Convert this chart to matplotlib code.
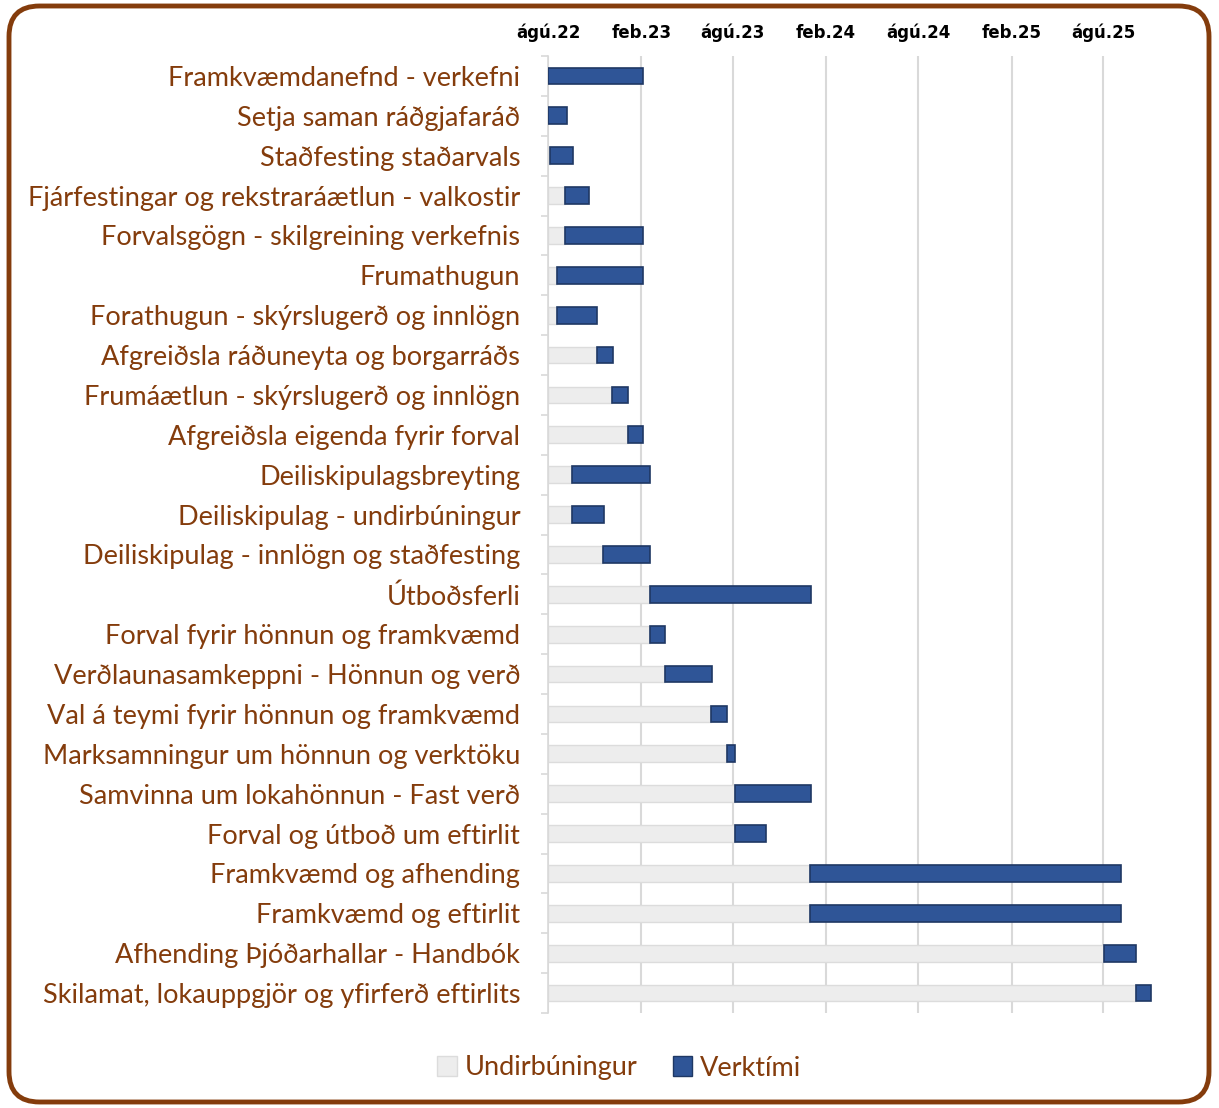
import pandas as pd
import matplotlib
matplotlib.use('Agg')
import matplotlib.pyplot as plt
import matplotlib.dates as mdates
from matplotlib.patches import FancyBboxPatch, Patch

# tasks of the project plan (top to bottom)
tasks = [
    'Framkvæmdanefnd - verkefni',
    'Setja saman ráðgjafaráð',
    'Staðfesting staðarvals',
    'Fjárfestingar og rekstraráætlun - valkostir',
    'Forvalsgögn - skilgreining verkefnis',
    'Frumathugun',
    'Forathugun - skýrslugerð og innlögn',
    'Afgreiðsla ráðuneyta og borgarráðs',
    'Frumáætlun - skýrslugerð og innlögn',
    'Afgreiðsla eigenda fyrir forval',
    'Deiliskipulagsbreyting',
    'Deiliskipulag - undirbúningur',
    'Deiliskipulag - innlögn og staðfesting',
    'Útboðsferli',
    'Forval fyrir hönnun og framkvæmd',
    'Verðlaunasamkeppni - Hönnun og verð',
    'Val á teymi fyrir hönnun og framkvæmd',
    'Marksamningur um hönnun og verktöku',
    'Samvinna um lokahönnun - Fast verð',
    'Forval og útboð um eftirlit',
    'Framkvæmd og afhending',
    'Framkvæmd og eftirlit',
    'Afhending Þjóðarhallar - Handbók',
    'Skilamat, lokauppgjör og yfirferð eftirlits',
]

start = ['2022-08-01', '2022-08-01', '2022-08-05', '2022-09-04', '2022-09-04',
         '2022-08-19', '2022-08-19', '2022-11-06', '2022-12-05', '2023-01-06',
         '2022-09-17', '2022-09-17', '2022-11-18', '2023-02-18', '2023-02-18',
         '2023-03-20', '2023-06-19', '2023-07-21', '2023-08-05', '2023-08-05',
         '2024-01-01', '2024-01-01', '2025-08-03', '2025-10-04']
end = ['2023-02-05', '2022-09-08', '2022-09-19', '2022-10-21', '2023-02-05',
       '2023-02-05', '2022-11-06', '2022-12-07', '2023-01-06', '2023-02-05',
       '2023-02-18', '2022-11-20', '2023-02-18', '2024-01-03', '2023-03-20',
       '2023-06-21', '2023-07-21', '2023-08-05', '2024-01-03', '2023-10-06',
       '2025-09-06', '2025-09-06', '2025-10-04', '2025-11-03']

tick_dates = ['2022-08-01', '2023-02-01', '2023-08-01', '2024-02-01',
              '2024-08-01', '2025-02-01', '2025-08-01']
tick_labels = ['ágú.22', 'feb.23', 'ágú.23', 'feb.24', 'ágú.24', 'feb.25', 'ágú.25']

brown = '#843C0C'
blue = '#2F5597'
gray = '#EDEDED'

s = mdates.date2num(pd.to_datetime(start))
e = mdates.date2num(pd.to_datetime(end))
xmin = mdates.date2num(pd.Timestamp('2022-08-01'))
xmax = mdates.date2num(pd.Timestamp('2025-12-01'))
y = list(range(len(tasks)))

fig = plt.figure(figsize=(12.19, 11.08), dpi=100)
ax = fig.add_axes([548 / 1219, 1 - 1013 / 1108, (1165 - 548) / 1219, (1013 - 56) / 1108])

ax.barh(y, s - xmin, left=xmin, height=0.42, color=gray, edgecolor='#DCDCDC', linewidth=1, zorder=2)
ax.barh(y, e - s, left=s, height=0.42, color=blue, edgecolor='#1F3864', linewidth=1.2, zorder=3)

ax.set_xlim(xmin, xmax)
ax.set_ylim(len(tasks) - 0.5, -0.5)

ax.xaxis.tick_top()
ax.set_xticks(mdates.date2num(pd.to_datetime(tick_dates)))
ax.set_xticklabels(tick_labels, fontsize=12, fontweight='bold', family='DejaVu Sans')
ax.tick_params(axis='x', length=0, pad=10)
ax.grid(axis='x', color='#D9D9D9', linewidth=1.5, zorder=0)

ax.set_yticks(y)
ax.set_yticklabels(tasks, fontsize=19.5, color=brown, family='Lato')
ax.tick_params(axis='y', which='major', length=0, pad=20)
ax.set_yticks([i + 0.5 for i in range(-1, len(tasks))], minor=True)
ax.tick_params(axis='y', which='minor', length=5, color='#D9D9D9', width=1.2)

for side in ['top', 'right', 'bottom']:
    ax.spines[side].set_visible(False)
ax.spines['left'].set_color('#D9D9D9')
ax.spines['left'].set_linewidth(1.2)

handles = [Patch(facecolor=gray, edgecolor='#DCDCDC', label='Undirbúningur'),
           Patch(facecolor=blue, edgecolor='#1F3864', label='Verktími')]
leg = fig.legend(handles=handles, loc='center', bbox_to_anchor=(0.508, 1 - 1068 / 1108), ncol=2,
                 frameon=False, handlelength=0.72, handleheight=0.72, handletextpad=0.3,
                 columnspacing=1.3, prop={'family': 'Lato', 'size': 19.5})
for t in leg.get_texts():
    t.set_color(brown)

# rounded frame around the whole chart
frame = FancyBboxPatch((9 / 1219, 6 / 1108), 1200 / 1219, 1096 / 1108,
                       boxstyle='round,pad=0,rounding_size=0.025', transform=fig.transFigure,
                       facecolor='none', edgecolor=brown, linewidth=3.5, mutation_aspect=1219 / 1108)
fig.patches.append(frame)

fig.savefig('out.png', dpi=100)
